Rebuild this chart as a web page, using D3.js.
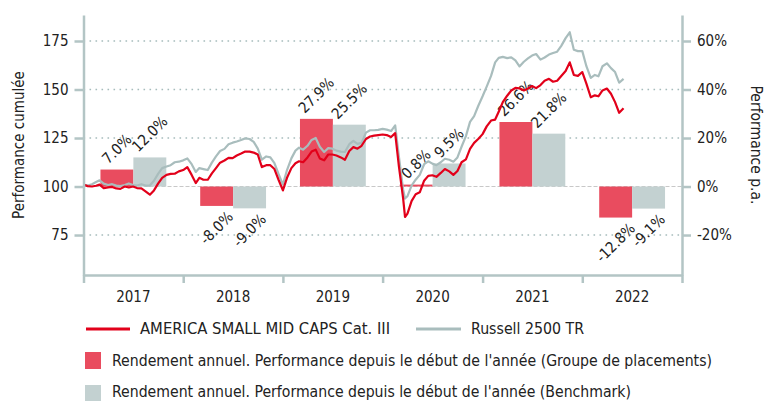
<!DOCTYPE html>
<html>
<head>
<meta charset="utf-8">
<script src="https://cdn.jsdelivr.net/npm/d3@7"></script>
<style>
  body { margin: 0; background: #fff; }
  svg text { font-family: "DejaVu Sans Condensed", "DejaVu Sans", sans-serif; font-stretch: condensed; fill: #222; }
</style>
</head>
<body>
<svg id="chart" width="765" height="401"></svg>
<script>
// annual returns (bars)
const years = ['2017', '2018', '2019', '2020', '2021', '2022'];
const fundReturns = [7.0, -8.0, 27.9, 0.8, 26.6, -12.8];
const benchReturns = [12.0, -9.0, 25.5, 9.5, 21.8, -9.1];

// cumulative performance (lines)
const dates = [
  '2017-01-01','2017-01-16','2017-02-01','2017-02-16','2017-03-01','2017-03-16','2017-04-01','2017-04-16','2017-05-01','2017-05-16','2017-06-01','2017-06-16',
  '2017-07-01','2017-07-16','2017-08-01','2017-08-16','2017-09-01','2017-09-16','2017-10-01','2017-10-16','2017-11-01','2017-11-16','2017-12-01','2017-12-16',
  '2018-01-01','2018-01-16','2018-02-01','2018-02-16','2018-03-01','2018-03-16','2018-04-01','2018-04-16','2018-05-01','2018-05-16','2018-06-01','2018-06-16',
  '2018-07-01','2018-07-16','2018-08-01','2018-08-16','2018-09-01','2018-09-16','2018-10-01','2018-10-16','2018-11-01','2018-11-16','2018-12-01','2018-12-16',
  '2019-01-01','2019-01-16','2019-02-01','2019-02-16','2019-03-01','2019-03-16','2019-04-01','2019-04-16','2019-05-01','2019-05-16','2019-06-01','2019-06-16',
  '2019-07-01','2019-07-16','2019-08-01','2019-08-16','2019-09-01','2019-09-16','2019-10-01','2019-10-16','2019-11-01','2019-11-16','2019-12-01','2019-12-16',
  '2020-01-01','2020-01-16','2020-02-01','2020-02-16','2020-03-01','2020-03-16','2020-03-23','2020-04-01','2020-04-16','2020-05-01','2020-05-16','2020-06-01','2020-06-16',
  '2020-07-01','2020-07-16','2020-08-01','2020-08-16','2020-09-01','2020-09-16','2020-10-01','2020-10-16','2020-11-01','2020-11-16','2020-12-01','2020-12-16',
  '2021-01-01','2021-01-16','2021-02-01','2021-02-16','2021-03-01','2021-03-16','2021-04-01','2021-04-16','2021-05-01','2021-05-16','2021-06-01','2021-06-16',
  '2021-07-01','2021-07-16','2021-08-01','2021-08-16','2021-09-01','2021-09-16','2021-10-01','2021-10-16','2021-11-01','2021-11-16','2021-12-01','2021-12-16',
  '2022-01-01','2022-01-16','2022-02-01','2022-02-16','2022-03-01','2022-03-16','2022-04-01','2022-04-16','2022-05-01','2022-05-16','2022-06-01'
];
const fundCumul = [
  101, 100.2, 100, 100.4, 101, 99.2, 99.6, 99.8, 99, 98.8, 100, 99.5, 100, 99.2, 99, 97.5, 95.8, 98, 101.5, 104.5, 106, 106.5, 106.6, 107.8,
  108.5, 110, 106, 101.8, 104.5, 103.5, 103.5, 106.8, 109.5, 112.3, 113.4, 114.8, 114.6, 116, 117, 118, 118, 117.5, 116.5, 110, 111, 111, 109, 103.5,
  98, 104.5, 109.5, 112, 113, 112.5, 115, 118, 119, 114.5, 113.5, 116.5, 116.5, 116, 115, 113.8, 118.3, 120.3, 119.5, 121, 124.5, 125.8, 126.2, 126.5,
  126.8, 126.5, 125.5, 127.5, 110, 94, 84.3, 86, 92.5, 96, 97, 103, 105.5, 105.8, 105, 107, 109, 107.8, 106, 108, 112.5, 114, 119.4, 122.5, 124.5,
  127, 131, 134, 134.5, 138.5, 143.5, 146.8, 149.5, 150.8, 150.6, 149.5, 150.5, 151.8, 150.7, 152.3, 154.5, 155.5, 154, 154.5, 157, 159.5, 164, 157.5, 157,
  159, 153, 146, 147, 146.5, 149.5, 150.5, 147.8, 143.5, 138, 140.3
];
const benchCumul = [
  101, 100.5, 101.2, 102.3, 103.2, 101.5, 100.8, 101.2, 100.5, 100.2, 100.8, 101.6, 100.8, 100.5, 101.2, 100.5, 100.5, 103, 106.5, 109.5, 110.3, 111, 112.5, 112.8,
  113.5, 114.5, 111.5, 107.5, 109.5, 109, 108.5, 112.3, 115.5, 118.3, 119.4, 121.8, 122.6, 123.2, 124, 124.8, 124.5, 123, 119.5, 113.8, 115.5, 115, 112, 106.5,
  101, 108.5, 114.5, 118.5, 120, 119, 121, 124, 125, 120.5, 117.8, 119.8, 119.5, 118.5, 118, 117.8, 121.8, 123.5, 122, 122.5, 127.8, 129, 129, 129.2,
  129.7, 129.3, 128.6, 131.5, 115, 98.5, 93.8, 95, 100.5, 103.5, 106, 111.5, 113, 111.8, 111, 112.5, 114.3, 113.8, 112.8, 115, 120.5, 126, 133.3, 136.3, 141.5,
  146.5, 151.5, 157, 164, 166.3, 166.8, 166.2, 166.6, 165, 161.9, 164.3, 166, 167.5, 168.3, 165.4, 166.5, 168, 168.8, 169.5, 172.5, 176.5, 179.5, 170.5, 169.8,
  169.8, 162, 156, 157.5, 156.8, 162, 163.5, 161, 159, 153.5, 155.5
];

const leftTicks = [75, 100, 125, 150, 175];
const rightTicks = [-20, 0, 20, 40, 60];

const fundName = 'AMERICA SMALL MID CAPS Cat. III';
const benchName = 'Russell 2500 TR';
const fundBarName = "Rendement annuel. Performance depuis le début de l'année (Groupe de placements)";
const benchBarName = "Rendement annuel. Performance depuis le début de l'année (Benchmark)";

const colors = {fundLine: '#e2001a', benchLine: '#a9bdbd', fundBar: '#e94c5f', benchBar: '#c3d1d1', axis: '#b3c5c5', grid: '#a6bcbc'};

const margin = {top: 15, bottom: 126, left: 83.5, right: 83};
const width = 765, height = 401;
const plotBottom = height - margin.bottom;
const plotRight = width - margin.right;

const svg = d3.select('#chart');
const parse = d3.timeParse('%Y-%m-%d');

const x = d3.scaleTime()
  .domain([parse('2017-01-01'), parse('2023-01-01')])
  .range([margin.left, plotRight]);

const yLeft = d3.scaleLinear().domain([54.4, 188.4]).range([plotBottom, margin.top]);
// right axis: 0% sits on 100
const yRight = d3.scaleLinear().domain([(54.4 - 100) * 0.8, (188.4 - 100) * 0.8]).range([plotBottom, margin.top]);

const xBand = d3.scaleBand().domain(years).range([margin.left, plotRight]).paddingInner(0.34).paddingOuter(0.17);
const xSub = d3.scaleBand().domain(['fund', 'bench']).range([0, xBand.bandwidth()]);

// grid
const grid = svg.append('g').attr('id', 'grid');
grid.selectAll('line')
  .data(leftTicks.filter(t => t !== 100))
  .join('line')
  .attr('x1', margin.left).attr('x2', plotRight)
  .attr('y1', d => yLeft(d)).attr('y2', d => yLeft(d))
  .attr('stroke', colors.grid).attr('stroke-width', 1.6)
  .attr('stroke-dasharray', '1.6,4.4');
grid.append('line')
  .attr('x1', margin.left).attr('x2', plotRight)
  .attr('y1', yLeft(100)).attr('y2', yLeft(100))
  .attr('stroke', '#c8c8c8').attr('stroke-width', 1.2)
  .attr('stroke-dasharray', '4,2');

// bars
const barData = [];
years.forEach((yr, i) => {
  barData.push({year: yr, key: 'fund', value: fundReturns[i]});
  barData.push({year: yr, key: 'bench', value: benchReturns[i]});
});

svg.append('g').attr('id', 'bars')
  .selectAll('rect')
  .data(barData)
  .join('rect')
  .attr('x', d => xBand(d.year) + xSub(d.key))
  .attr('width', xSub.bandwidth())
  .attr('y', d => yRight(Math.max(0, d.value)))
  .attr('height', d => Math.abs(yRight(d.value) - yRight(0)))
  .attr('fill', d => d.key === 'fund' ? colors.fundBar : colors.benchBar);

// bar labels, rotated -45 and centred on the bar
const labels = svg.append('g').attr('id', 'labels')
  .selectAll('text')
  .data(barData)
  .join('text')
  .text(d => d.value.toFixed(1) + '%')
  .attr('font-size', '15px')
  .attr('text-anchor', 'middle')
  .attr('dominant-baseline', 'central');
labels.each(function (d) {
  const len = this.getComputedTextLength();
  const half = (len * 0.7071 + 15 * 0.7071) / 2 + 3;
  const cx = xBand(d.year) + xSub(d.key) + xSub.bandwidth() / 2;
  const cy = d.value >= 0 ? yRight(d.value) - half : yRight(d.value) + half;
  d3.select(this).attr('transform', `translate(${cx},${cy}) rotate(-45)`);
});

// lines
const line = d3.line()
  .x((d, i) => x(parse(dates[i])))
  .y(d => yLeft(d));

svg.append('path')
  .attr('d', line(benchCumul))
  .attr('fill', 'none').attr('stroke', colors.benchLine).attr('stroke-width', 2.2)
  .attr('stroke-linejoin', 'round');
svg.append('path')
  .attr('d', line(fundCumul))
  .attr('fill', 'none').attr('stroke', colors.fundLine).attr('stroke-width', 2.2)
  .attr('stroke-linejoin', 'round');

// axes
const styleAxis = g => {
  g.selectAll('.domain').attr('stroke', colors.axis).attr('stroke-width', 2.5);
  g.selectAll('.tick line').attr('stroke', colors.axis).attr('stroke-width', 2.5);
  g.selectAll('.tick text').attr('font-size', '15px').attr('fill', '#222')
    .attr('font-family', '"DejaVu Sans Condensed", "DejaVu Sans", sans-serif');
};

svg.append('g')
  .attr('transform', `translate(${margin.left},0)`)
  .call(d3.axisLeft(yLeft).tickValues(leftTicks).tickSize(9).tickSizeOuter(0).tickPadding(6))
  .call(styleAxis);

svg.append('g')
  .attr('transform', `translate(${plotRight},0)`)
  .call(d3.axisRight(yRight).tickValues(rightTicks).tickSize(9).tickSizeOuter(0).tickPadding(6).tickFormat(d => d + '%'))
  .call(styleAxis);

svg.append('g')
  .attr('transform', `translate(0,${plotBottom})`)
  .call(d3.axisBottom(x).ticks(d3.timeYear.every(1)).tickSize(8).tickSizeOuter(0).tickFormat(''))
  .call(styleAxis);

svg.append('g').attr('id', 'year-labels')
  .selectAll('text')
  .data(years)
  .join('text')
  .attr('x', d => xBand(d) + xBand.bandwidth() / 2)
  .attr('y', plotBottom + 27)
  .attr('text-anchor', 'middle')
  .attr('font-size', '15px')
  .text(d => d);

// axis titles
svg.append('text')
  .attr('transform', `translate(24,${(margin.top + plotBottom) / 2}) rotate(-90)`)
  .attr('text-anchor', 'middle')
  .attr('font-size', '15px')
  .text('Performance cumulée');
svg.append('text')
  .attr('transform', `translate(751,${(margin.top + plotBottom) / 2}) rotate(90)`)
  .attr('text-anchor', 'middle')
  .attr('font-size', '15.5px')
  .text('Performance p.a.');

// legend
const legend = svg.append('g').attr('id', 'legend').attr('font-size', '15.5px');
legend.append('line').attr('x1', 86).attr('x2', 130).attr('y1', 329).attr('y2', 329)
  .attr('stroke', colors.fundLine).attr('stroke-width', 3);
legend.append('text').attr('x', 140).attr('y', 334).text(fundName)
  .attr('textLength', 250).attr('lengthAdjust', 'spacingAndGlyphs');
legend.append('line').attr('x1', 416).attr('x2', 461).attr('y1', 329).attr('y2', 329)
  .attr('stroke', colors.benchLine).attr('stroke-width', 3);
legend.append('text').attr('x', 471).attr('y', 334).text(benchName)
  .attr('textLength', 113).attr('lengthAdjust', 'spacingAndGlyphs');
legend.append('rect').attr('x', 85).attr('y', 352).attr('width', 16).attr('height', 17).attr('fill', colors.fundBar);
legend.append('text').attr('x', 112).attr('y', 366).text(fundBarName)
  .attr('textLength', 600).attr('lengthAdjust', 'spacingAndGlyphs');
legend.append('rect').attr('x', 85).attr('y', 385).attr('width', 16).attr('height', 17).attr('fill', colors.benchBar);
legend.append('text').attr('x', 112).attr('y', 397).text(benchBarName)
  .attr('textLength', 519).attr('lengthAdjust', 'spacingAndGlyphs');
</script>
</body>
</html>
